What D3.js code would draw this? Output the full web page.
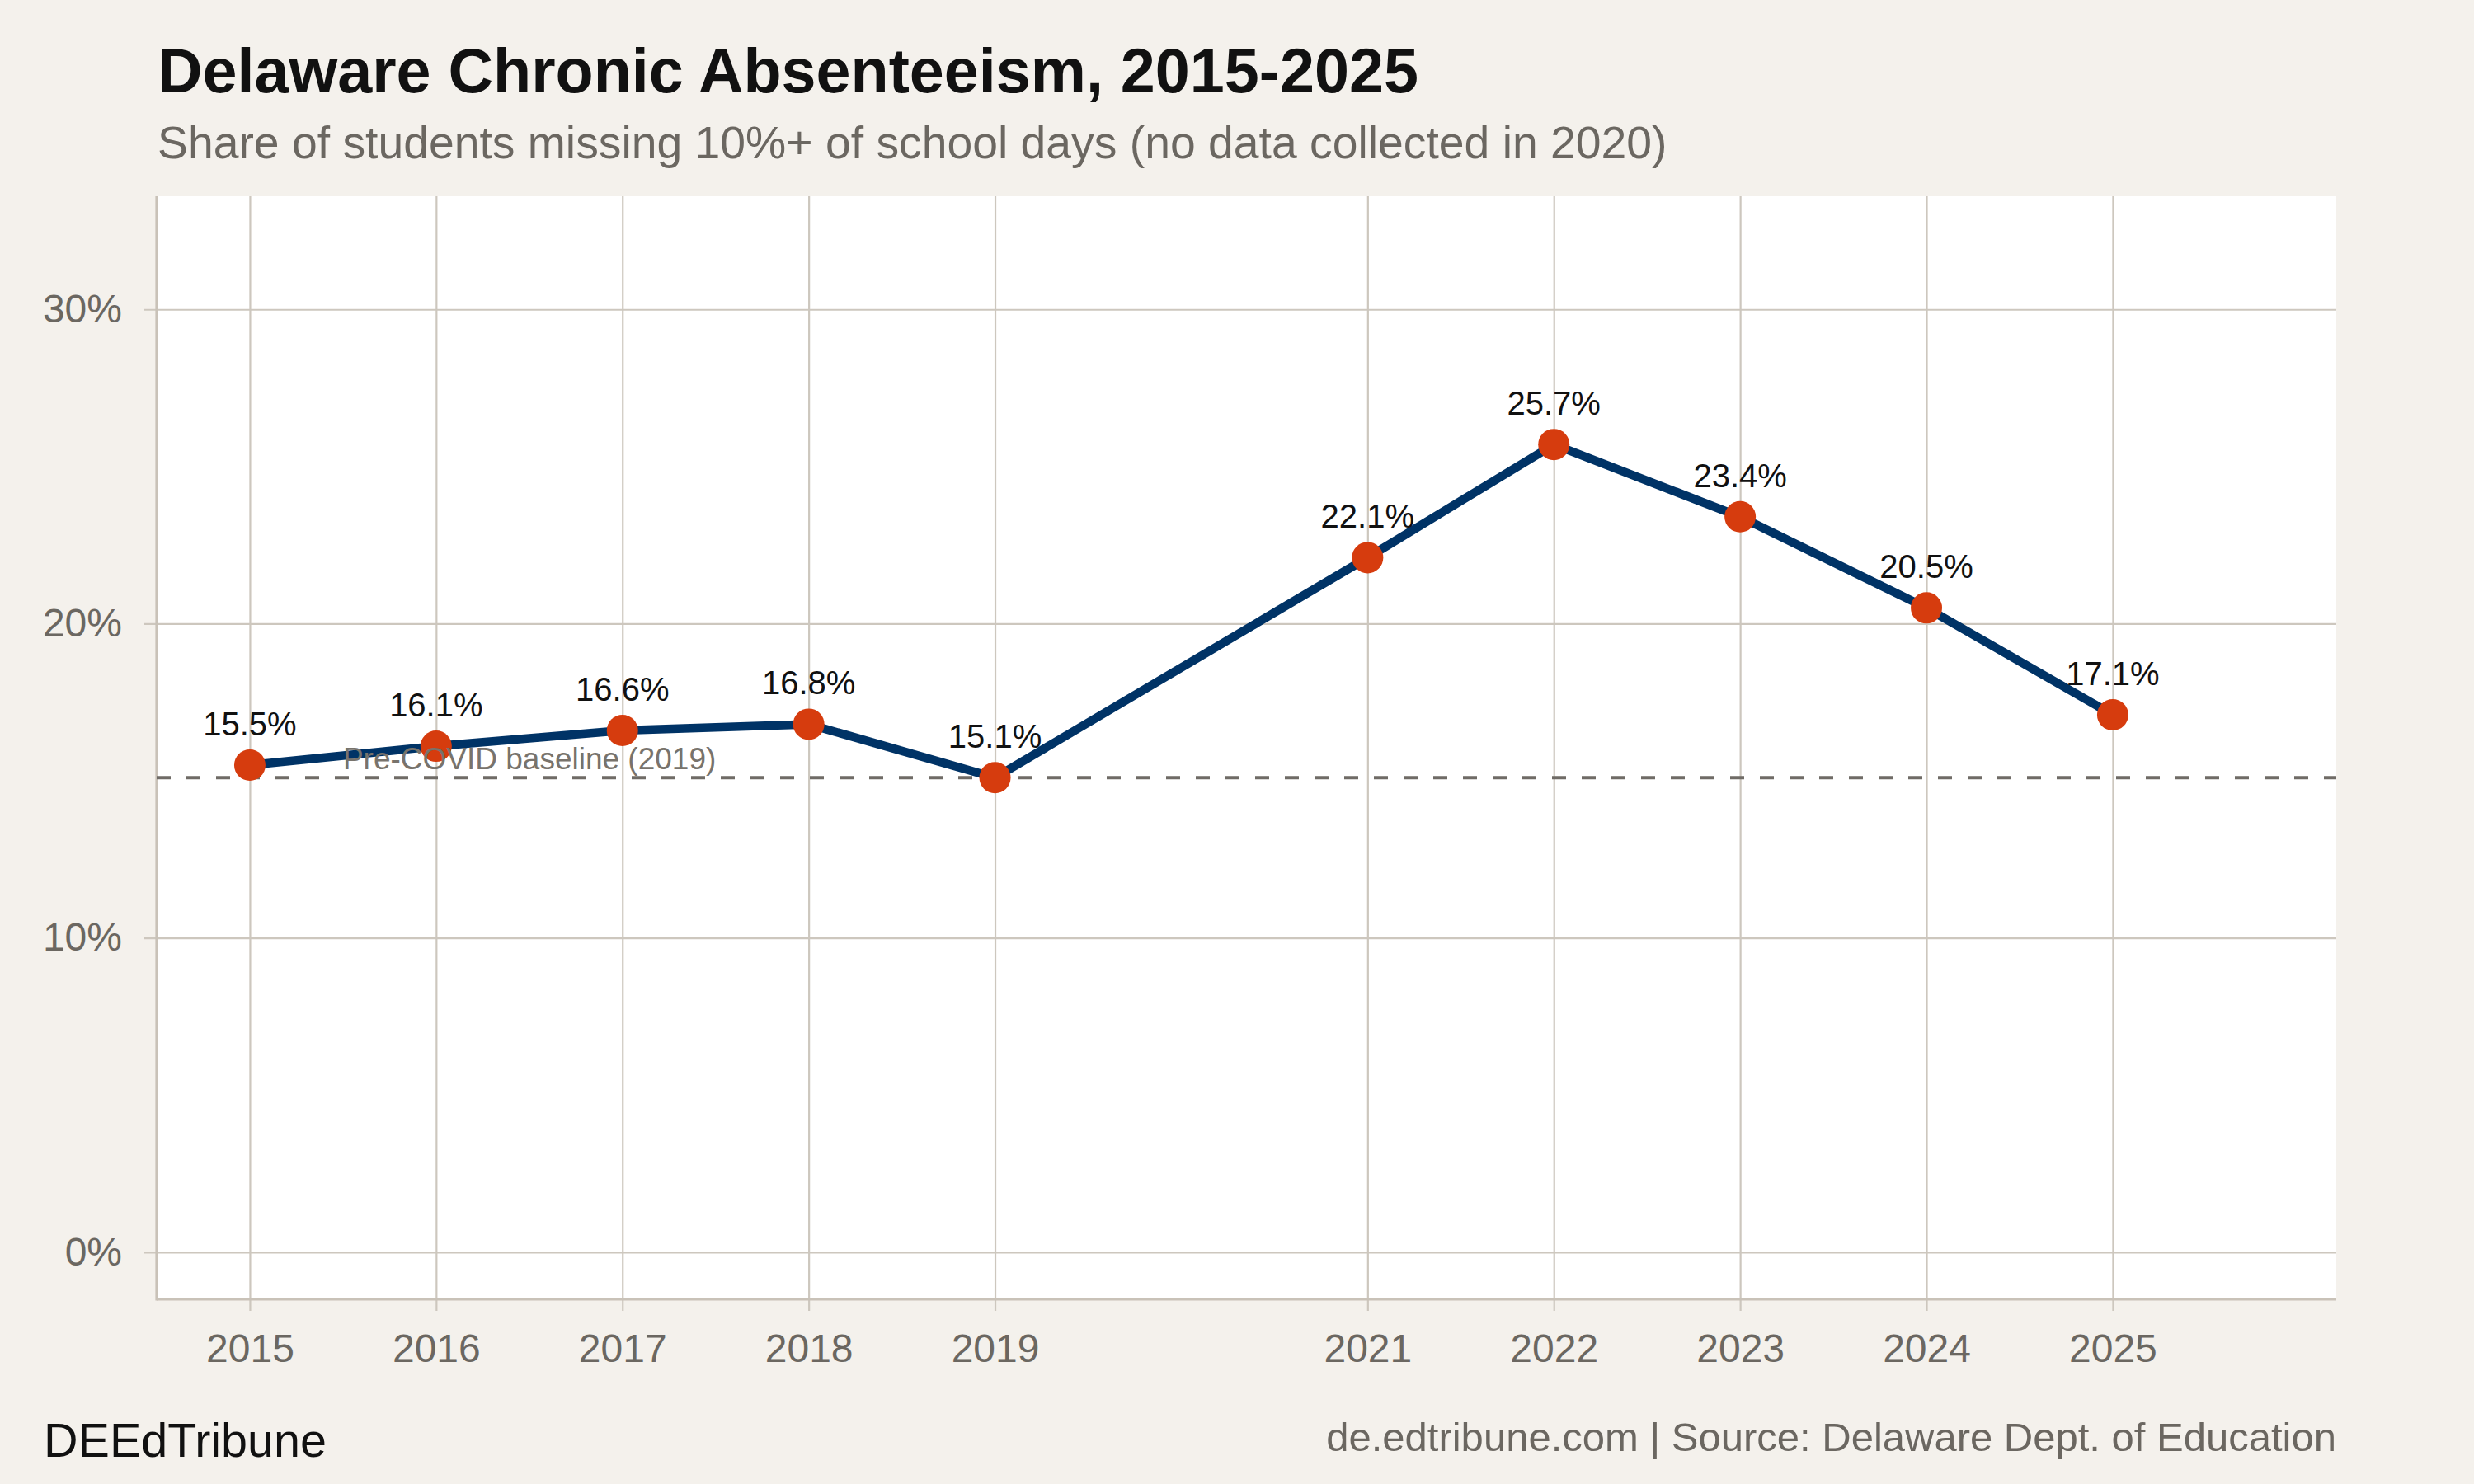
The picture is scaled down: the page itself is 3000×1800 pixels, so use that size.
<!DOCTYPE html>
<html>
<head>
<meta charset="utf-8">
<script src="https://cdn.jsdelivr.net/npm/d3@7"></script>
<style>
  html, body { margin: 0; padding: 0; background: #f4f1ec; }
  svg { display: block; }
  text { font-family: "Liberation Sans", Arial, Helvetica, sans-serif; }
</style>
</head>
<body>
<div id="chart"></div>
<script>
// Delaware chronic absenteeism, share of students (%), no 2020 data
const years = [2015, 2016, 2017, 2018, 2019, 2021, 2022, 2023, 2024, 2025];
const rates = [15.5, 16.1, 16.6, 16.8, 15.1, 22.1, 25.7, 23.4, 20.5, 17.1];
const yTicks = [0, 10, 20, 30];
const baseline = 15.1;

const W = 3000, H = 1800;
const panel = { left: 190, right: 2833, top: 238, bottom: 1576 };

const rows = years.map((yr, i) => ({ year: yr, rate: rates[i] }));

const svg = d3.select("#chart").append("svg")
  .attr("width", W).attr("height", H)
  .attr("viewBox", `0 0 ${W} ${H}`);

svg.append("rect").attr("width", W).attr("height", H).attr("fill", "#f4f1ec");

const x = d3.scaleLinear().domain([2014.5, 2026.2]).range([panel.left, panel.right]);
const y = d3.scaleLinear().domain([-1.5, 33.6]).range([panel.bottom, panel.top]);

svg.append("rect")
  .attr("x", panel.left).attr("y", panel.top)
  .attr("width", panel.right - panel.left).attr("height", panel.bottom - panel.top)
  .attr("fill", "#ffffff");

const gridColor = "#cdc7be";

// vertical grid + x ticks
svg.append("g")
  .attr("transform", `translate(0,${panel.bottom})`)
  .call(d3.axisBottom(x).tickValues(years).tickFormat(d3.format("d"))
    .tickSize(-(panel.bottom - panel.top)).tickPadding(42))
  .call(s => s.select(".domain").remove())
  .call(s => s.selectAll("line").attr("stroke", gridColor).attr("stroke-width", 2.2)
    .attr("y1", 14))
  .call(s => s.selectAll("text").attr("font-size", 48).attr("fill", "#6b6761")
    .attr("font-family", "'Liberation Sans', Arial, sans-serif"));

// horizontal grid + y ticks
svg.append("g")
  .attr("transform", `translate(${panel.left},0)`)
  .call(d3.axisLeft(y).tickValues(yTicks).tickFormat(d => d + "%")
    .tickSize(-(panel.right - panel.left)).tickPadding(42))
  .call(s => s.select(".domain").remove())
  .call(s => s.selectAll("line").attr("stroke", gridColor).attr("stroke-width", 2.2)
    .attr("x1", -15))
  .call(s => s.selectAll("text").attr("font-size", 48).attr("fill", "#6b6761")
    .attr("font-family", "'Liberation Sans', Arial, sans-serif"));

// axis lines
svg.append("line")
  .attr("x1", panel.left).attr("x2", panel.left)
  .attr("y1", panel.top).attr("y2", panel.bottom + 1.5)
  .attr("stroke", "#c9c2b8").attr("stroke-width", 3.2);
svg.append("line")
  .attr("x1", panel.left).attr("x2", panel.right)
  .attr("y1", panel.bottom).attr("y2", panel.bottom)
  .attr("stroke", "#c9c2b8").attr("stroke-width", 3.2);

// pre-covid baseline
svg.append("line")
  .attr("x1", panel.left).attr("x2", panel.right)
  .attr("y1", y(baseline)).attr("y2", y(baseline))
  .attr("stroke", "#6f6b66").attr("stroke-width", 4)
  .attr("stroke-dasharray", "17,19");

// line
const line = d3.line().x(d => x(d.year)).y(d => y(d.rate));
svg.append("path").datum(rows)
  .attr("d", line)
  .attr("fill", "none")
  .attr("stroke", "#003366")
  .attr("stroke-width", 10.5)
  .attr("stroke-linejoin", "round");

// points
svg.selectAll("circle.pt").data(rows).join("circle")
  .attr("class", "pt")
  .attr("cx", d => x(d.year)).attr("cy", d => y(d.rate))
  .attr("r", 19)
  .attr("fill", "#d63c0e");

// value labels
svg.selectAll("text.val").data(rows).join("text")
  .attr("class", "val")
  .attr("x", d => x(d.year)).attr("y", d => y(d.rate) - 36)
  .attr("text-anchor", "middle")
  .attr("font-size", 40).attr("fill", "#111111")
  .text(d => d.rate.toFixed(1) + "%");

// baseline annotation
svg.append("text")
  .attr("x", x(2015.5)).attr("y", y(baseline) - 10)
  .attr("font-size", 37).attr("fill", "#78736c")
  .text("Pre-COVID baseline (2019)");

// titles
svg.append("text")
  .attr("x", 191).attr("y", 112)
  .attr("font-size", 75.5).attr("font-weight", "bold").attr("fill", "#111111")
  .text("Delaware Chronic Absenteeism, 2015-2025");
svg.append("text")
  .attr("x", 191).attr("y", 192)
  .attr("font-size", 55.3).attr("fill", "#6b6761")
  .text("Share of students missing 10%+ of school days (no data collected in 2020)");

// footer
svg.append("text")
  .attr("x", 53).attr("y", 1767)
  .attr("font-size", 57.5).attr("fill", "#111111")
  .text("DEEdTribune");
svg.append("text")
  .attr("x", panel.right).attr("y", 1760)
  .attr("text-anchor", "end")
  .attr("font-size", 49).attr("fill", "#6b6761")
  .text("de.edtribune.com | Source: Delaware Dept. of Education");
</script>
</body>
</html>
